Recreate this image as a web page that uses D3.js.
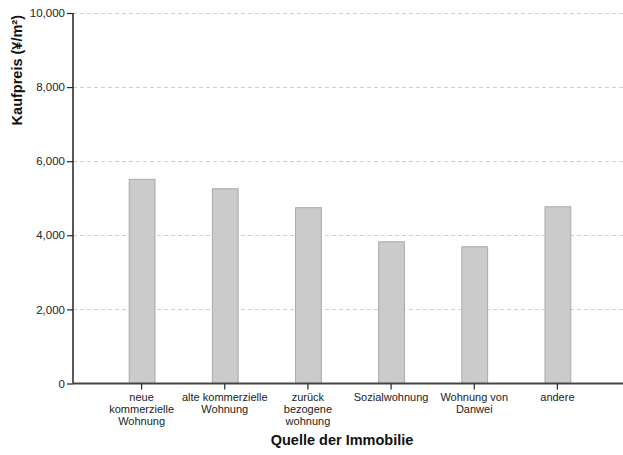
<!DOCTYPE html>
<html><head><meta charset="utf-8">
<script src="https://cdn.jsdelivr.net/npm/d3@7"></script>
<style>body{margin:0;background:#fff;font-family:"Liberation Sans",Arial,sans-serif}</style>
</head><body><svg id="c" width="623" height="455"></svg>
<script>
const categories = [["neue","kommerzielle","Wohnung"],["alte kommerzielle","Wohnung"],["zurück","bezogene","wohnung"],["Sozialwohnung"],["Wohnung von","Danwei"],["andere"]];
const values = [5510, 5255, 4745, 3825, 3690, 4770];
const yTicks = [0, 2000, 4000, 6000, 8000, 10000];

const svg = d3.select("#c");
const mLeft = 73, mRight = 626, mTop = 13, mBottom = 383.5;
const x = d3.scaleBand().domain(d3.range(categories.length)).range([mLeft, mRight]).paddingInner(0.69).paddingOuter(0.67);
const y = d3.scaleLinear().domain([0, 10000]).range([mBottom, mTop]);

// grid
svg.append("g").selectAll("line").data(yTicks.slice(1)).join("line")
  .attr("x1", mLeft).attr("x2", 623).attr("y1", d => Math.round(y(d))+0.5).attr("y2", d => Math.round(y(d))+0.5)
  .attr("stroke", "#cfcfcf").attr("stroke-dasharray", "4,3");

// bars
svg.append("g").selectAll("rect").data(values).join("rect")
  .attr("x", (d,i) => x(i)+0.5).attr("y", d => y(d)).attr("width", x.bandwidth()).attr("height", d => y(0)-y(d))
  .attr("fill", "#cbcbcb").attr("stroke", "#a9a9a9").attr("stroke-width", 1);

// y axis
const ya = svg.append("g").attr("transform", `translate(${mLeft},0)`)
  .call(d3.axisLeft(y).tickValues(yTicks).tickFormat(d3.format(",")).tickSize(6).tickPadding(2));
ya.select(".domain").attr("stroke", "#222").attr("stroke-width", 1.5).attr("d", `M0,${mTop}V${mBottom}`);
ya.selectAll(".tick line").attr("stroke", "#222").attr("stroke-width", 1.2);
ya.selectAll("text").attr("font-size", 11.5).attr("fill", "#222").attr("font-family", "Liberation Sans, Arial, sans-serif");

// baseline
svg.append("line").attr("x1", mLeft).attr("x2", 623).attr("y1", mBottom).attr("y2", mBottom).attr("stroke", "#444").attr("stroke-width", 2);

// x ticks
const xt = svg.append("g").selectAll("g").data(categories).join("g")
  .attr("transform", (d,i) => `translate(${x(i)+x.bandwidth()/2},${mBottom})`);
xt.append("line").attr("y1", 0).attr("y2", 6).attr("stroke", "#222").attr("stroke-width", 1.2);
xt.append("text").attr("text-anchor", "middle").attr("font-size", 11).attr("fill", "#222")
  .selectAll("tspan").data(d => d).join("tspan").attr("x", 0).attr("y", (d,j) => 17 + j*12).text(d => d);

// titles
svg.append("text").attr("x", 342).attr("y", 445).attr("text-anchor", "middle")
  .attr("font-size", 14.5).attr("font-weight", "bold").attr("fill", "#111").text("Quelle der Immobilie");
svg.append("text").attr("transform", "translate(22,15) rotate(-90)").attr("text-anchor", "end")
  .attr("font-size", 14.5).attr("font-weight", "bold").attr("fill", "#111").text("Kaufpreis (¥/m²)");
</script></body></html>
